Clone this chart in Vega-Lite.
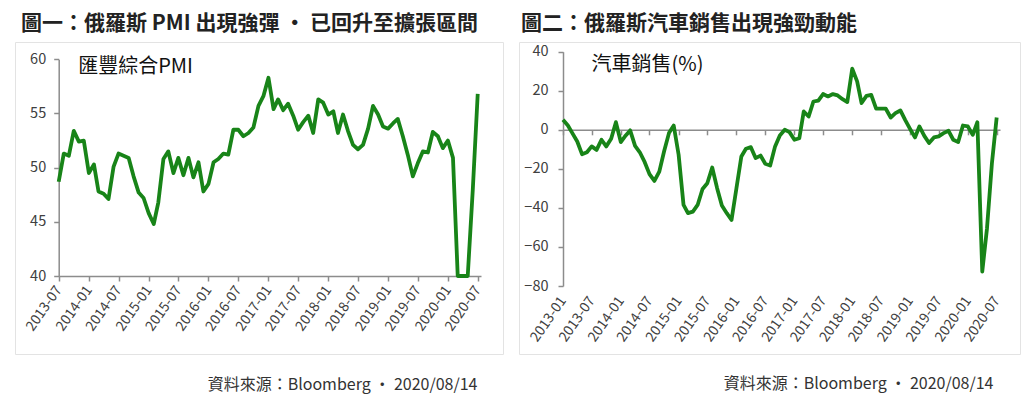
{
  "$schema": "https://vega.github.io/schema/vega-lite/v6.json",
  "padding": {"left": 14, "top": 12, "right": 5, "bottom": 5},
  "spacing": 14,
  "config": {
    "font": "Noto Sans CJK TC",
    "view": {"stroke": "#e3e3e3", "strokeWidth": 1},
    "axis": {
      "grid": false,
      "domainColor": "#8c8c8c",
      "tickColor": "#8c8c8c",
      "domainWidth": 1.5,
      "tickWidth": 1.5,
      "labelColor": "#404040",
      "labelFont": "Noto Sans CJK TC",
      "titleFont": "Noto Sans CJK TC",
      "titleFontWeight": "normal",
      "labelOverlap": false,
      "labelFlush": false
    },
    "title": {"font": "Noto Sans CJK TC", "fontSize": 21, "fontWeight": "bold", "color": "#222222", "anchor": "start"}
  },
  "datasets": {
    "pmi": [
      {"d": "2013-07", "v": 48.7}, {"d": "2013-08", "v": 51.3}, {"d": "2013-09", "v": 51.1}, {"d": "2013-10", "v": 53.4}, {"d": "2013-11", "v": 52.4}, {"d": "2013-12", "v": 52.5},
      {"d": "2014-01", "v": 49.5}, {"d": "2014-02", "v": 50.3}, {"d": "2014-03", "v": 47.8}, {"d": "2014-04", "v": 47.6}, {"d": "2014-05", "v": 47.1}, {"d": "2014-06", "v": 50.1},
      {"d": "2014-07", "v": 51.3}, {"d": "2014-08", "v": 51.1}, {"d": "2014-09", "v": 50.9}, {"d": "2014-10", "v": 49.2}, {"d": "2014-11", "v": 47.7}, {"d": "2014-12", "v": 47.2},
      {"d": "2015-01", "v": 45.8}, {"d": "2015-02", "v": 44.8}, {"d": "2015-03", "v": 46.8}, {"d": "2015-04", "v": 50.8}, {"d": "2015-05", "v": 51.5}, {"d": "2015-06", "v": 49.5},
      {"d": "2015-07", "v": 50.9}, {"d": "2015-08", "v": 49.3}, {"d": "2015-09", "v": 50.9}, {"d": "2015-10", "v": 49.1}, {"d": "2015-11", "v": 50.5}, {"d": "2015-12", "v": 47.8},
      {"d": "2016-01", "v": 48.5}, {"d": "2016-02", "v": 50.5}, {"d": "2016-03", "v": 50.8}, {"d": "2016-04", "v": 51.3}, {"d": "2016-05", "v": 51.2}, {"d": "2016-06", "v": 53.5},
      {"d": "2016-07", "v": 53.5}, {"d": "2016-08", "v": 52.9}, {"d": "2016-09", "v": 53.2}, {"d": "2016-10", "v": 53.7}, {"d": "2016-11", "v": 55.7}, {"d": "2016-12", "v": 56.6},
      {"d": "2017-01", "v": 58.3}, {"d": "2017-02", "v": 55.4}, {"d": "2017-03", "v": 56.3}, {"d": "2017-04", "v": 55.3}, {"d": "2017-05", "v": 55.9}, {"d": "2017-06", "v": 54.8},
      {"d": "2017-07", "v": 53.5}, {"d": "2017-08", "v": 54.2}, {"d": "2017-09", "v": 54.8}, {"d": "2017-10", "v": 53.2}, {"d": "2017-11", "v": 56.3}, {"d": "2017-12", "v": 56.0},
      {"d": "2018-01", "v": 54.9}, {"d": "2018-02", "v": 55.2}, {"d": "2018-03", "v": 53.2}, {"d": "2018-04", "v": 54.9}, {"d": "2018-05", "v": 53.4}, {"d": "2018-06", "v": 52.1},
      {"d": "2018-07", "v": 51.7}, {"d": "2018-08", "v": 52.1}, {"d": "2018-09", "v": 53.6}, {"d": "2018-10", "v": 55.7}, {"d": "2018-11", "v": 54.9}, {"d": "2018-12", "v": 53.8},
      {"d": "2019-01", "v": 53.6}, {"d": "2019-02", "v": 54.1}, {"d": "2019-03", "v": 54.5}, {"d": "2019-04", "v": 52.9}, {"d": "2019-05", "v": 51.2}, {"d": "2019-06", "v": 49.2},
      {"d": "2019-07", "v": 50.4}, {"d": "2019-08", "v": 51.5}, {"d": "2019-09", "v": 51.4}, {"d": "2019-10", "v": 53.3}, {"d": "2019-11", "v": 52.9}, {"d": "2019-12", "v": 51.8},
      {"d": "2020-01", "v": 52.5}, {"d": "2020-02", "v": 50.9}, {"d": "2020-03", "v": 36.4}, {"d": "2020-04", "v": 13.9}, {"d": "2020-05", "v": 35.0}, {"d": "2020-06", "v": 48.0},
      {"d": "2020-07", "v": 56.8}
    ],
    "car": [
      {"d": "2013-01", "v": 5.1}, {"d": "2013-02", "v": 2.2}, {"d": "2013-03", "v": -1.7}, {"d": "2013-04", "v": -6.0}, {"d": "2013-05", "v": -12.5}, {"d": "2013-06", "v": -11.5},
      {"d": "2013-07", "v": -8.5}, {"d": "2013-08", "v": -10.3}, {"d": "2013-09", "v": -5.1}, {"d": "2013-10", "v": -8.5}, {"d": "2013-11", "v": -4.6}, {"d": "2013-12", "v": 3.9},
      {"d": "2014-01", "v": -6.3}, {"d": "2014-02", "v": -2.9}, {"d": "2014-03", "v": -0.3}, {"d": "2014-04", "v": -8.2}, {"d": "2014-05", "v": -11.5}, {"d": "2014-06", "v": -16.6},
      {"d": "2014-07", "v": -22.7}, {"d": "2014-08", "v": -26.2}, {"d": "2014-09", "v": -21.4}, {"d": "2014-10", "v": -11.1}, {"d": "2014-11", "v": -1.7}, {"d": "2014-12", "v": 2.2},
      {"d": "2015-01", "v": -12.8}, {"d": "2015-02", "v": -38.5}, {"d": "2015-03", "v": -42.7}, {"d": "2015-04", "v": -41.9}, {"d": "2015-05", "v": -38.5}, {"d": "2015-06", "v": -30.3},
      {"d": "2015-07", "v": -27.4}, {"d": "2015-08", "v": -19.3}, {"d": "2015-09", "v": -29.9}, {"d": "2015-10", "v": -38.8}, {"d": "2015-11", "v": -42.7}, {"d": "2015-12", "v": -46.2},
      {"d": "2016-01", "v": -29.9}, {"d": "2016-02", "v": -13.7}, {"d": "2016-03", "v": -9.7}, {"d": "2016-04", "v": -8.9}, {"d": "2016-05", "v": -14.5}, {"d": "2016-06", "v": -13.2},
      {"d": "2016-07", "v": -17.4}, {"d": "2016-08", "v": -18.3}, {"d": "2016-09", "v": -8.5}, {"d": "2016-10", "v": -2.9}, {"d": "2016-11", "v": 0.0}, {"d": "2016-12", "v": -1.2},
      {"d": "2017-01", "v": -5.1}, {"d": "2017-02", "v": -4.3}, {"d": "2017-03", "v": 9.4}, {"d": "2017-04", "v": 6.8}, {"d": "2017-05", "v": 14.5}, {"d": "2017-06", "v": 15.0},
      {"d": "2017-07", "v": 18.3}, {"d": "2017-08", "v": 17.1}, {"d": "2017-09", "v": 18.3}, {"d": "2017-10", "v": 17.6}, {"d": "2017-11", "v": 15.7}, {"d": "2017-12", "v": 14.2},
      {"d": "2018-01", "v": 31.3}, {"d": "2018-02", "v": 24.8}, {"d": "2018-03", "v": 13.7}, {"d": "2018-04", "v": 17.4}, {"d": "2018-05", "v": 17.9}, {"d": "2018-06", "v": 10.8},
      {"d": "2018-07", "v": 10.8}, {"d": "2018-08", "v": 10.8}, {"d": "2018-09", "v": 6.3}, {"d": "2018-10", "v": 8.5}, {"d": "2018-11", "v": 9.9}, {"d": "2018-12", "v": 5.1},
      {"d": "2019-01", "v": 0.5}, {"d": "2019-02", "v": -3.9}, {"d": "2019-03", "v": 1.7}, {"d": "2019-04", "v": -3.1}, {"d": "2019-05", "v": -6.8}, {"d": "2019-06", "v": -3.9},
      {"d": "2019-07", "v": -3.4}, {"d": "2019-08", "v": -1.7}, {"d": "2019-09", "v": -0.5}, {"d": "2019-10", "v": -5.1}, {"d": "2019-11", "v": -6.3}, {"d": "2019-12", "v": 2.2},
      {"d": "2020-01", "v": 1.7}, {"d": "2020-02", "v": -2.6}, {"d": "2020-03", "v": 3.9}, {"d": "2020-04", "v": -72.6}, {"d": "2020-05", "v": -50.4}, {"d": "2020-06", "v": -17.1},
      {"d": "2020-07", "v": 6.3}
    ]
  },
  "hconcat": [
    {
      "width": 488,
      "height": 312,
      "title": {"text": "圖一：俄羅斯 PMI 出現強彈 · 已回升至擴張區間", "dx": 6, "offset": 8},
      "data": {"name": "pmi"},
      "mark": {"type": "line", "color": "#188418", "strokeWidth": 3.8, "strokeJoin": "round"},
      "encoding": {
        "x": {
          "field": "d",
          "type": "temporal",
          "scale": {
            "type": "utc",
            "domain": [{"year": 2013, "month": 7, "date": 1, "utc": true}, {"year": 2020, "month": 7, "date": 21, "utc": true}],
            "range": [43.7, 466]
          },
          "axis": {
            "values": [
              {"year": 2013, "month": 7, "date": 1, "utc": true},
              {"year": 2014, "month": 1, "date": 1, "utc": true},
              {"year": 2014, "month": 7, "date": 1, "utc": true},
              {"year": 2015, "month": 1, "date": 1, "utc": true},
              {"year": 2015, "month": 7, "date": 1, "utc": true},
              {"year": 2016, "month": 1, "date": 1, "utc": true},
              {"year": 2016, "month": 7, "date": 1, "utc": true},
              {"year": 2017, "month": 1, "date": 1, "utc": true},
              {"year": 2017, "month": 7, "date": 1, "utc": true},
              {"year": 2018, "month": 1, "date": 1, "utc": true},
              {"year": 2018, "month": 7, "date": 1, "utc": true},
              {"year": 2019, "month": 1, "date": 1, "utc": true},
              {"year": 2019, "month": 7, "date": 1, "utc": true},
              {"year": 2020, "month": 1, "date": 1, "utc": true},
              {"year": 2020, "month": 7, "date": 1, "utc": true}
            ],
            "format": "%Y-%m",
            "offset": -78,
            "tickSize": 5,
            "labelAngle": -55,
            "labelAlign": "right",
            "labelBaseline": "middle",
            "labelFontSize": 14,
            "labelPadding": 6,
            "title": "資料來源：Bloomberg · 2020/08/14",
            "titleFontSize": 16,
            "titleColor": "#333333",
            "titleAlign": "right",
            "titleBaseline": "middle",
            "titleX": 462,
            "titleY": 108
          }
        },
        "y": {
          "field": "v",
          "type": "quantitative",
          "scale": {"domain": [40, 60], "range": [234, 17.3], "clamp": true, "nice": false, "zero": false},
          "axis": {
            "values": [40, 45, 50, 55, 60],
            "offset": -43.7,
            "tickSize": 5,
            "labelPadding": 8,
            "labelFontSize": 14.5,
            "title": "匯豐綜合PMI",
            "titleFontSize": 20,
            "titleColor": "#111111",
            "titleAngle": 0,
            "titleAlign": "left",
            "titleBaseline": "middle",
            "titleX": 19,
            "titleY": 24
          }
        }
      }
    },
    {
      "width": 501,
      "height": 312,
      "title": {"text": "圖二：俄羅斯汽車銷售出現強勁動能", "dx": 2, "offset": 8},
      "data": {"name": "car"},
      "mark": {"type": "line", "color": "#188418", "strokeWidth": 3.8, "strokeJoin": "round"},
      "encoding": {
        "x": {
          "field": "d",
          "type": "temporal",
          "scale": {
            "type": "utc",
            "domain": [{"year": 2013, "month": 1, "date": 1, "utc": true}, {"year": 2020, "month": 7, "date": 22, "utc": true}],
            "range": [44, 481]
          },
          "axis": {
            "values": [
              {"year": 2013, "month": 1, "date": 1, "utc": true},
              {"year": 2013, "month": 7, "date": 1, "utc": true},
              {"year": 2014, "month": 1, "date": 1, "utc": true},
              {"year": 2014, "month": 7, "date": 1, "utc": true},
              {"year": 2015, "month": 1, "date": 1, "utc": true},
              {"year": 2015, "month": 7, "date": 1, "utc": true},
              {"year": 2016, "month": 1, "date": 1, "utc": true},
              {"year": 2016, "month": 7, "date": 1, "utc": true},
              {"year": 2017, "month": 1, "date": 1, "utc": true},
              {"year": 2017, "month": 7, "date": 1, "utc": true},
              {"year": 2018, "month": 1, "date": 1, "utc": true},
              {"year": 2018, "month": 7, "date": 1, "utc": true},
              {"year": 2019, "month": 1, "date": 1, "utc": true},
              {"year": 2019, "month": 7, "date": 1, "utc": true},
              {"year": 2020, "month": 1, "date": 1, "utc": true},
              {"year": 2020, "month": 7, "date": 1, "utc": true}
            ],
            "format": "%Y-%m",
            "offset": -224.2,
            "tickSize": 5,
            "labelAngle": -55,
            "labelAlign": "right",
            "labelBaseline": "middle",
            "labelFontSize": 14,
            "labelPadding": 163,
            "title": "資料來源：Bloomberg · 2020/08/14",
            "titleFontSize": 16,
            "titleColor": "#333333",
            "titleAlign": "right",
            "titleBaseline": "middle",
            "titleX": 474,
            "titleY": 254
          }
        },
        "y": {
          "field": "v",
          "type": "quantitative",
          "scale": {"domain": [-80, 40], "range": [244, 9.7], "nice": false, "zero": false},
          "axis": {
            "values": [-80, -60, -40, -20, 0, 20, 40],
            "offset": -44,
            "tickSize": 5,
            "labelPadding": 10,
            "labelFontSize": 14.5,
            "title": "汽車銷售(%)",
            "titleFontSize": 20,
            "titleColor": "#111111",
            "titleAngle": 0,
            "titleAlign": "left",
            "titleBaseline": "middle",
            "titleX": 28,
            "titleY": 22
          }
        }
      }
    }
  ]
}
